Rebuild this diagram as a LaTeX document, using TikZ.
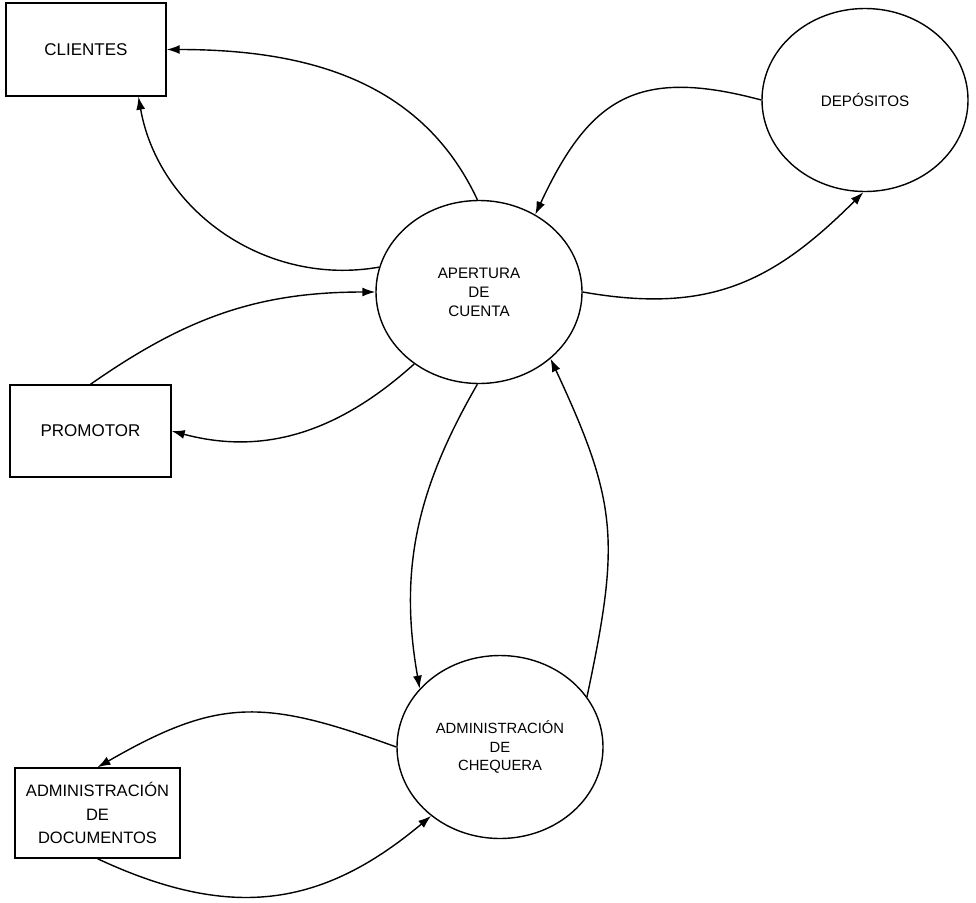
\documentclass[tikz,border=0pt]{standalone}
\usepackage{fontspec}
\setmainfont{Liberation Sans}
\usepackage{tikz}
\usetikzlibrary{arrows.meta}
\usetikzlibrary{shapes.geometric}

\tikzset{
  entidad/.style={rectangle, draw=black, line width=1.4pt, inner sep=0pt, align=center, font=\fontsize{17}{23.5}\selectfont},
  proceso/.style={ellipse, draw=black, line width=1.4pt, inner sep=0pt, minimum width=206pt, minimum height=183pt, align=center, font=\fontsize{15.2}{19}\selectfont},
  flujo/.style={-{Latex[length=13pt,width=9pt]}, draw=black, line width=1.4pt},
}

\begin{document}
\begin{tikzpicture}[x=1pt, y=1pt]
\useasboundingbox (0,0) rectangle (976,-902);
% entidades externas
\node [entidad, minimum width=160pt, minimum height=93pt] (clientes) at (86, -49.5) {CLIENTES};
\node [entidad, minimum width=161pt, minimum height=92pt] (promotor) at (90.5, -431) {PROMOTOR};
\node [entidad, minimum width=165pt, minimum height=90pt, font=\fontsize{16.5}{23.5}\selectfont] (documentos) at (97.5, -813) {ADMINISTRACIÓN\\DE\\DOCUMENTOS};
% procesos
\node [proceso] (apertura) at (479, -292) {APERTURA\\DE\\CUENTA};
\node [proceso] (depositos) at (865, -100) {DEPÓSITOS};
\node [proceso, font=\fontsize{14.8}{18.5}\selectfont] (chequera) at (500, -747) {ADMINISTRACIÓN\\DE\\CHEQUERA};
% flujos
\draw [flujo] (apertura.91) to [out=115, in=0] (clientes.east);
\draw [flujo] (apertura.166) to [out=190, in=-80] (clientes.-42);
\draw [flujo] (promotor.north) to [out=35, in=180] (apertura.180);
\draw [flujo] (apertura.228) to [out=222, in=-15] (promotor.east);
\draw [flujo] (apertura.0) to [out=-10, in=-135, looseness=1.1] (depositos.-91);
\draw [flujo] (depositos.180) to [out=165, in=65, looseness=1.3] (apertura.54);
\draw [flujo] (apertura.-91) to [out=240, in=100] (chequera.144);
\draw [flujo] (chequera.30) to [out=78, in=-65, looseness=1.2] (apertura.-43);
\draw [flujo] (chequera.180) to [out=160, in=30, looseness=1.2] (documentos.north);
\draw [flujo] (documentos.south) to [out=-25, in=-140, looseness=1.1] (chequera.-135);
\end{tikzpicture}
\end{document}
